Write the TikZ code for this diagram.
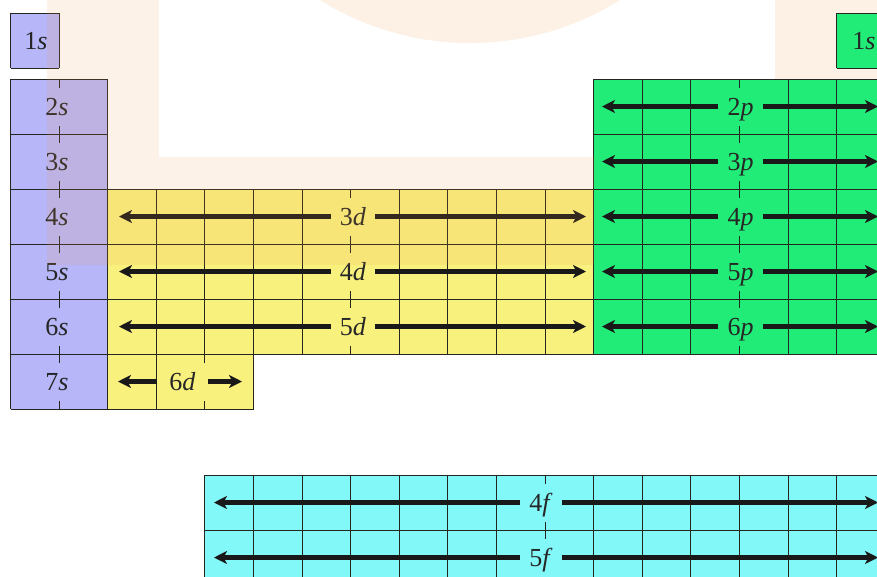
\documentclass[tikz,border=0pt]{standalone}
\usepackage{fontspec}
\setmainfont{Liberation Serif}
\usetikzlibrary{arrows.meta}
\definecolor{sblue}{HTML}{B6B6F8}
\definecolor{dyel}{HTML}{F9F17E}
\definecolor{pgreen}{HTML}{22EC78}
\definecolor{fcyan}{HTML}{82F8F8}
\definecolor{gridc}{HTML}{262620}
\definecolor{peach}{HTML}{FDF0E4}
\definecolor{wmark}{RGB}{242,155,75}
\def\W{48.6}
\def\XO{10.5}
\def\H{55}
% \cellblock{first column}{number of columns}{top y}{number of rows}{colour}
\newcommand\cellblock[5]{%
  \fill[#5] ({\XO+#1*\W},#3) rectangle ({\XO+(#1+#2)*\W},{#3+#4*\H});
  \foreach \i in {0,...,#2} \draw[cellgrid] ({\XO+(#1+\i)*\W},#3) -- ({\XO+(#1+\i)*\W},{#3+#4*\H});
  \foreach \j in {0,...,#4} \draw[cellgrid] ({\XO+#1*\W},{#3+\j*\H}) -- ({\XO+(#1+#2)*\W},{#3+\j*\H});
}
\begin{document}
\begin{tikzpicture}[x=1pt,y=-1pt,
  cellgrid/.style={draw=gridc,line width=1pt},
  lbl/.style={fill=#1, text=black!85, inner xsep=9pt, inner ysep=0pt, minimum height=38pt,
    text height=17.5pt, text depth=0pt, font=\fontsize{26}{30}\selectfont},
  orb/.style={line width=4.2pt, draw=black!90, -{Stealth[length=13pt,width=13pt,inset=3.5pt]}}
]
\useasboundingbox (0,0) rectangle (877,576);
\clip (0,0) rectangle (877,576);
\fill[white] (0,0) rectangle (877,576);
% watermark parts lying on white
\fill[peach] (470,-240) circle (283);
\fill[peach] (775,0) rectangle (877,79);

% blocks
\cellblock{0}{1}{13}{1}{sblue}
\cellblock{0}{2}{79}{6}{sblue}
\cellblock{2}{10}{189}{3}{dyel}
\cellblock{2}{3}{354}{1}{dyel}
\cellblock{12}{6}{79}{5}{pgreen}
\cellblock{17}{1}{13}{1}{pgreen}
\cellblock{4}{14}{475}{2}{fcyan}

% s labels
\node[lbl=sblue, inner xsep=3pt] (s1) at (36,40.5) {1\textit{s}};
\node[lbl=pgreen, inner xsep=3pt] (he1) at (864,40.5) {1\textit{s}};
\foreach \r in {2,...,7}
  \node[lbl=sblue] (s\r) at (57,{79+(\r-2)*55+27.5}) {\r\textit{s}};

% d labels and arrows
\foreach \r in {3,4,5}{
  \node[lbl=dyel] (d\r) at (353,{189+(\r-3)*55+27.5}) {\r\textit{d}};
  \coordinate (dl\r) at (119,{189+(\r-3)*55+27.5});
  \coordinate (dr\r) at (586,{189+(\r-3)*55+27.5});
  \draw[orb] (d\r.west) -- (dl\r);
  \draw[orb] (d\r.east) -- (dr\r);
}
\node[lbl=dyel, inner xsep=12pt] (d6) at (182.5,381.5) {6\textit{d}};
\coordinate (dl6) at (118,381.5);
\coordinate (dr6) at (242,381.5);
\draw[orb] (d6.west) -- (dl6);
\draw[orb] (d6.east) -- (dr6);

% p labels and arrows
\foreach \r in {2,...,6}{
  \node[lbl=pgreen] (p\r) at (740.5,{79+(\r-2)*55+27.5}) {\r\textit{p}};
  \coordinate (pl\r) at (602,{79+(\r-2)*55+27.5});
  \coordinate (pr\r) at (878,{79+(\r-2)*55+27.5});
  \draw[orb] (p\r.west) -- (pl\r);
  \draw[orb] (p\r.east) -- (pr\r);
}

% f labels and arrows
\foreach \r in {4,5}{
  \node[lbl=fcyan] (f\r) at (541,{475+(\r-4)*55+27.5}) {\r\textit{f}};
  \coordinate (fl\r) at (214,{475+(\r-4)*55+27.5});
  \coordinate (fr\r) at (878,{475+(\r-4)*55+27.5});
  \draw[orb] (f\r.west) -- (fl\r);
  \draw[orb] (f\r.east) -- (fr\r);
}

% watermark parts lying over the chart
\fill[wmark, opacity=0.13] (47,0) rectangle (159,265);
\fill[wmark, opacity=0.13] (159,157) rectangle (594,265);
\end{tikzpicture}
\end{document}
